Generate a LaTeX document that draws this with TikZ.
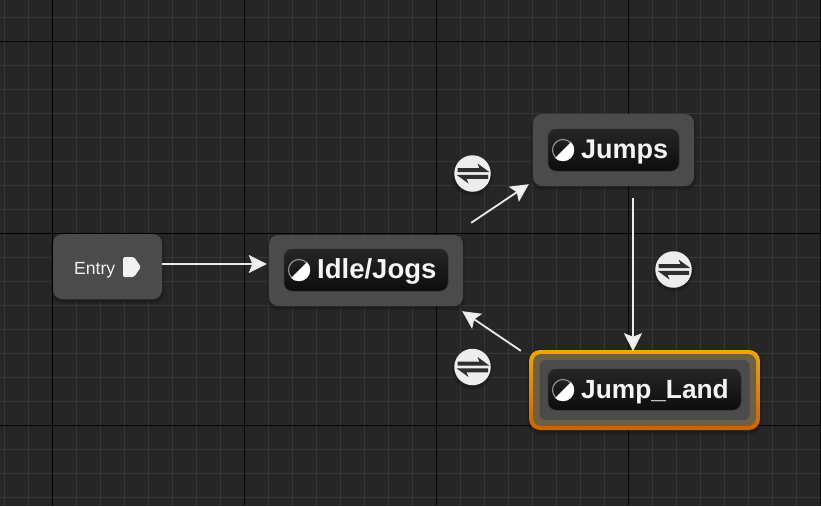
\documentclass[tikz,border=0pt]{standalone}
\usepackage{fontspec}
\setmainfont{Liberation Sans}
\usetikzlibrary{shadows,arrows.meta}
\definecolor{bgc}{HTML}{262626}
\definecolor{minorc}{HTML}{363636}
\definecolor{boxc}{HTML}{4B4B4B}
\definecolor{iconc}{HTML}{EDEDED}
\definecolor{swapink}{HTML}{2E2E2E}
\definecolor{landtop}{HTML}{F0A800}
\definecolor{landbot}{HTML}{CF6200}
\definecolor{ringc}{HTML}{6E6046}
\tikzset{
  softshadow/.style={
    general shadow={draw=black,line width=5pt,opacity=.10,shadow xshift=0pt,shadow yshift=-2pt},
    general shadow={draw=black,line width=2.5pt,opacity=.14,shadow xshift=0pt,shadow yshift=-2pt}},
  statebox/.style={fill=boxc,rounded corners=9pt,inner sep=0pt,softshadow},
  pill/.style={top color=black!85!white,bottom color=black!95!white,rounded corners=8pt,inner sep=0pt,draw=black!80!white,line width=.5pt},
  statetext/.style={text=white!96!black,inner sep=0pt,anchor=base west,font=\bfseries\fontsize{27}{27}\selectfont},
  swapcircle/.style={circle,fill=iconc,minimum size=36.5pt,inner sep=0pt,softshadow},
  flow/.style={draw=white!92!black,line width=1.8pt,-{Stealth[length=18pt,width=18pt,inset=3.5pt,fill=white!95!black]}},
}
\newcommand{\swapicon}[1]{%
  \fill[swapink] ([shift={(-15,-5.3)}]#1.center) -- ([shift={(7,-5.3)}]#1.center) -- ([shift={(5,-10)}]#1.center) -- ([shift={(17,-1.3)}]#1.center) -- ([shift={(-15,-1.3)}]#1.center) -- cycle;
  \fill[swapink] ([shift={(15.5,5.3)}]#1.center) -- ([shift={(-6,5.3)}]#1.center) -- ([shift={(-4,10)}]#1.center) -- ([shift={(-16,1.3)}]#1.center) -- ([shift={(15.5,1.3)}]#1.center) -- cycle;
}
\newcommand{\stateicon}[1]{%
  \draw[gray!90!white,line width=1.2pt] (#1) circle[radius=10.5pt];
  \fill[white] ([shift={(45:11.2pt)}]#1) arc[start angle=45,end angle=-135,radius=11.2pt] -- cycle;
}
\begin{document}
\begin{tikzpicture}[x=1pt,y=-1pt]
\useasboundingbox (0,0) rectangle (821,506);
\fill[bgc] (0,0) rectangle (821,506);
% grid
\foreach \gx in {4.5,28.5,...,821}{\draw[minorc,line width=1pt] (\gx,0) -- (\gx,506);}
\foreach \gy in {17.5,41.5,...,506}{\draw[minorc,line width=1pt] (0,\gy) -- (821,\gy);}
\foreach \gx in {244.5,436.5,628.5,820.5}{\draw[black!75!bgc,line width=1pt] (\gx,0) -- (\gx,506);}
\foreach \gy in {41.5,425.5}{\draw[black!85!bgc,line width=1pt] (0,\gy) -- (821,\gy);}
\draw[black,line width=1.2pt] (52.5,0) -- (52.5,506);
\draw[black,line width=1.2pt] (0,233.5) -- (821,233.5);
% Entry
\node[statebox,minimum width=109pt,minimum height=65pt] (entry) at (107.5,266.5) {};
\node[text=white!95!black,inner sep=0pt,anchor=base west,font=\fontsize{17.6}{18}\selectfont] (entrytext) at (74,274) {Entry};
\fill[white!95!black,rounded corners=1.5pt] (123,257) -- (134,257) -- (141,267) -- (134,277) -- (123,277) -- cycle;
% Idle/Jogs
\node[statebox,minimum width=194pt,minimum height=71pt] (idle) at (366,270.5) {};
\node[pill,minimum width=164pt,minimum height=42pt] (idlepill) at (366,270) {};
\coordinate (idleicon) at (299,270);
\stateicon{idleicon}
\node[statetext,font=\bfseries\fontsize{27.5}{27}\selectfont] (idletext) at (317,278) {Idle/Jogs};
% Jumps
\node[statebox,minimum width=161pt,minimum height=72pt] (jumps) at (613.5,150) {};
\node[pill,minimum width=131pt,minimum height=42pt] (jumpspill) at (613.5,150) {};
\coordinate (jumpsicon) at (563,150);
\stateicon{jumpsicon}
\node[statetext] (jumpstext) at (581,158) {Jumps};
% Jump_Land
\node[rounded corners=11pt,inner sep=0pt,top color=landtop,bottom color=landbot,minimum width=231pt,minimum height=80pt,softshadow] (land) at (644.5,390) {};
\node[rounded corners=8pt,inner sep=0pt,fill=ringc,minimum width=223pt,minimum height=72pt] (landring) at (644.5,390) {};
\node[rounded corners=5pt,inner sep=0pt,fill=boxc,minimum width=210pt,minimum height=60pt] (landbox) at (644.5,390) {};
\node[pill,minimum width=193pt,minimum height=41pt] (landpill) at (644.5,389.5) {};
\coordinate (landicon) at (563,390);
\stateicon{landicon}
\node[statetext,font=\bfseries\fontsize{26.3}{27}\selectfont] (landtext) at (581,398) {Jump\_Land};
% Transition symbols
\node[swapcircle] (swapa) at (472.5,173.5) {};
\swapicon{swapa}
\node[swapcircle] (swapb) at (673.5,269.5) {};
\swapicon{swapb}
\node[swapcircle] (swapd) at (472.5,367) {};
\swapicon{swapd}
% Connectors
\draw[flow] ([shift={(0,-2.5)}]entry.east) -- ([shift={(-2,-6.5)}]idle.west);
\draw[flow] ([shift={(8,-12)}]idle.north east) -- ([shift={(-4,-2)}]jumps.south west);
\draw[flow] ([shift={(19.5,12)}]jumps.south) -- ([shift={(-11.5,-79)}]land.south);
\draw[flow] ([shift={(-8,1)}]land.north west) -- ([shift={(-1,5)}]idle.south east);
\end{tikzpicture}
\end{document}
